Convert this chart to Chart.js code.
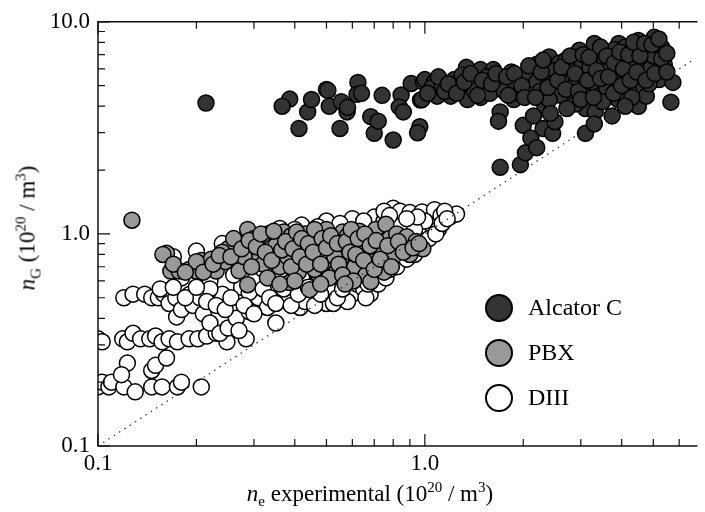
<!DOCTYPE html>
<html>
<head>
<meta charset="utf-8">
<script src="https://cdn.jsdelivr.net/npm/chart.js@4/dist/chart.umd.min.js"></script>
<style>
  body { margin: 0; background: #fff; }
  #wrap { position: relative; width: 705px; height: 512px; font-family: "Liberation Serif", "Times New Roman", serif; color: #000; }
  #myChart { position: absolute; left: 0; top: 0; }
  .ttl { position: absolute; font-size: 23px; white-space: nowrap; line-height: 1; }
  .ttl sub, .ttl sup { font-size: 15px; line-height: 0; }
  #xtitle { left: 370px; top: 493px; transform: translate(-50%, -50%); }
  #ytitle { left: 27px; top: 228px; transform: translate(-50%, -50%) rotate(-90deg); }
  #legend { position: absolute; left: 485px; top: 285px; font-size: 24px; }
  .item { display: flex; align-items: center; height: 45px; }
  .dot { width: 28px; height: 28px; border-radius: 50%; border: 2px solid #000; box-sizing: border-box; margin-right: 15px; }
</style>
</head>
<body>
<div id="wrap">
  <canvas id="myChart" width="705" height="512"></canvas>
  <div class="ttl" id="xtitle"><i>n</i><sub>e</sub> experimental (10<sup>20</sup> / m<sup>3</sup>)</div>
  <div class="ttl" id="ytitle"><i>n</i><sub>G</sub> (10<sup>20</sup> / m<sup>3</sup>)</div>
  <div id="legend"></div>
</div>
<script>
// 數據: [n_e experimental, n_G]
const alcatorC = [
  [0.214,4.14],[0.386,4.32],[0.366,4.0],[0.438,3.76],[0.412,3.14],[0.5,4.8],[0.505,4.75],[0.51,4.0],
  [0.555,4.2],[0.578,3.76],[0.55,3.14],[0.624,5.18],[0.62,4.55],[0.64,4.6],[0.683,3.57],[0.70,2.98],
  [0.80,2.77],[0.846,4.52],[0.835,3.97],[0.859,3.76],[0.965,3.2],[0.95,3.0],[0.908,5.12],[0.99,5.2],
  [0.97,4.28],[0.98,4.3],[1.0,5.34],[1.09,4.46],[1.07,5.2],[1.2,4.46],[1.23,5.34],[1.34,6.1],
  [1.35,4.3],[1.48,5.95],[1.48,4.4],[1.62,5.95],[1.62,4.9],[1.83,4.96],[1.84,5.8],[1.7,3.76],
  [1.68,3.4],[1.7,2.06],[1.96,2.12],[2.03,2.41],[1.87,4.3],[2.0,3.25],[2.11,2.83],[2.14,5.95],
  [2.1,4.96],[2.3,3.14],[2.46,2.98],[2.5,3.38],[2.33,4.0],[2.4,6.83],[2.58,6.4],[2.7,6.6],
  [2.58,4.96],[2.75,5.34],[2.97,7.34],[2.85,4.46],[3.1,3.9],[3.1,2.98],[3.3,7.9],[3.32,3.76],
  [3.32,6.4],[3.4,4.96],[3.66,7.1],[3.92,7.9],[3.92,5.8],[3.74,3.6],[4.05,4.4],[4.29,6.83],
  [4.5,8.16],[4.5,4.96],[4.5,4.0],[4.76,4.46],[5.03,8.45],[5.1,7.1],[5.17,6.4],[5.21,5.34],
  [5.74,5.18],[5.66,4.18],[1.05,4.9],[1.13,5.0],[1.15,4.7],[1.27,4.9],[1.3,5.6],[1.4,5.1],
  [1.42,4.7],[1.55,5.5],[1.58,4.6],[1.7,5.3],[1.75,4.7],[1.9,5.1],[1.95,4.6],[2.05,5.4],
  [2.2,5.2],[2.2,6.3],[2.25,4.7],[2.35,5.6],[2.45,5.1],[2.5,5.9],[2.6,4.5],[2.65,5.5],
  [2.8,6.0],[2.9,5.1],[3.0,6.6],[3.05,5.6],[3.1,4.7],[3.2,6.1],[3.25,5.2],[3.4,7.0],
  [3.5,5.8],[3.55,6.5],[3.6,4.9],[3.7,6.0],[3.8,7.4],[3.85,5.3],[4.0,6.6],[4.1,7.6],
  [4.15,5.6],[4.2,4.8],[4.3,6.1],[4.4,7.3],[4.6,5.6],[4.65,6.5],[4.8,7.6],[4.85,5.1],
  [4.9,6.0],[5.0,6.9],[5.3,7.6],[5.4,6.3],[3.5,4.2],[2.9,4.1],[2.4,4.3],[3.9,4.3],
  [4.3,4.4],[2.15,3.6],
  [1.02,4.6],[1.1,5.5],[1.18,5.1],[1.25,4.6],[1.32,5.2],[1.38,5.7],[1.45,4.5],[1.5,5.3],
  [1.6,5.1],[1.65,5.7],[1.78,5.5],[1.8,4.5],[1.88,5.7],[1.98,5.0],[2.02,4.4],[2.08,6.2],
  [2.18,4.4],[2.27,5.8],[2.3,6.6],[2.38,4.9],[2.42,3.7],[2.55,5.3],[2.62,6.1],[2.7,4.8],
  [2.72,3.9],[2.78,6.9],[2.88,5.7],[2.95,4.7],[3.0,4.3],[3.05,7.0],[3.15,5.3],[3.18,6.8],
  [3.28,4.4],[3.35,5.9],[3.45,7.6],[3.45,5.4],[3.6,6.9],[3.65,5.5],[3.78,4.6],[3.8,6.4],
  [3.95,7.2],[4.0,5.0],[4.05,6.0],[4.2,7.0],[4.25,5.3],[4.35,8.0],[4.45,5.8],[4.55,6.9],
  [4.7,7.9],[4.75,5.3],[4.95,7.8],[5.05,5.7],[5.2,8.3],[5.3,6.7],[5.5,5.8],[5.5,7.1],
  [4.1,4.0],[3.3,3.3],[2.2,2.55],[0.74,4.5],[0.72,3.4],[0.58,3.95],[0.45,4.3]
];
const pbx = [
  [0.127,1.16],[0.162,0.81],[0.158,0.80],[0.167,0.668],[0.177,0.668],[0.19,0.68],[0.2,0.668],[0.207,0.75],
  [0.215,0.70],[0.23,0.668],[0.222,0.76],[0.245,0.74],[0.264,0.88],[0.25,0.85],[0.287,1.05],[0.287,0.576],
  [0.27,0.67],[0.3,0.95],[0.31,0.80],[0.32,0.72],[0.333,0.98],[0.34,0.86],[0.353,0.96],[0.36,0.70],
  [0.37,1.02],[0.38,0.78],[0.386,0.59],[0.40,0.92],[0.41,0.66],[0.426,0.85],[0.43,1.0],[0.444,0.546],
  [0.45,0.75],[0.466,1.0],[0.47,0.88],[0.476,0.63],[0.49,0.80],[0.50,1.05],[0.51,0.70],[0.52,0.93],
  [0.535,0.66],[0.55,0.85],[0.56,1.02],[0.57,0.76],[0.585,0.61],[0.60,0.90],[0.61,0.70],[0.63,1.03],
  [0.64,0.82],[0.66,0.64],[0.67,0.95],[0.683,0.595],[0.69,0.74],[0.707,1.05],[0.72,0.87],[0.74,0.82],
  [0.75,0.66],[0.76,1.11],[0.78,0.95],[0.80,0.78],[0.82,1.0],[0.85,0.88],[0.88,0.97],[0.9,0.80],
  [0.986,0.85],[0.94,0.92],[0.33,0.62],[0.35,0.88],[0.39,0.98],[0.46,0.68],[0.53,0.78],[0.58,0.98],
  [0.62,0.88],[0.28,0.78],[0.24,0.82],[0.2,0.74],
  [0.17,0.72],[0.185,0.66],[0.21,0.66],[0.225,0.72],[0.235,0.79],[0.255,0.78],[0.26,0.95],[0.275,0.85],
  [0.29,0.93],[0.295,0.70],[0.305,0.87],[0.315,1.0],[0.325,0.82],[0.34,0.75],[0.345,1.03],[0.365,0.84],
  [0.375,0.92],[0.39,0.70],[0.395,0.85],[0.405,1.02],[0.415,0.78],[0.42,0.95],[0.435,0.72],[0.44,0.90],
  [0.455,0.82],[0.46,1.05],[0.48,0.72],[0.485,0.95],[0.5,0.86],[0.51,0.62],[0.515,0.98],[0.54,0.90],
  [0.545,0.72],[0.56,0.64],[0.575,0.92],[0.59,0.82],[0.595,1.05],[0.605,0.60],[0.615,0.80],[0.625,0.95],
  [0.65,0.75],[0.655,1.0],[0.68,0.88],[0.7,0.68],[0.71,0.93],[0.73,0.76],[0.77,0.88],[0.79,0.70],
  [0.83,0.92],[0.86,0.82],[0.92,0.86],[0.96,0.90],[0.57,0.58],[0.48,0.58],[0.36,0.58],[0.4,0.6]
];
const diii = [
  [0.1,0.19],[0.103,0.2],[0.108,0.19],[0.11,0.2],[0.12,0.19],[0.123,0.246],[0.118,0.217],[0.13,0.18],
  [0.146,0.19],[0.146,0.227],[0.150,0.24],[0.157,0.19],[0.162,0.26],[0.175,0.19],[0.18,0.2],[0.207,0.19],
  [0.1,0.32],[0.103,0.31],[0.119,0.32],[0.123,0.31],[0.128,0.34],[0.135,0.32],[0.144,0.32],[0.15,0.33],
  [0.157,0.31],[0.165,0.32],[0.175,0.31],[0.19,0.32],[0.202,0.32],[0.215,0.33],[0.23,0.34],[0.248,0.31],
  [0.284,0.32],[0.12,0.5],[0.128,0.52],[0.139,0.52],[0.146,0.5],[0.153,0.5],[0.159,0.52],[0.165,0.47],
  [0.173,0.5],[0.174,0.406],[0.18,0.44],[0.191,0.52],[0.195,0.46],[0.205,0.5],[0.21,0.42],[0.22,0.38],
  [0.236,0.34],[0.25,0.36],[0.26,0.46],[0.265,0.40],[0.272,0.50],[0.275,0.56],[0.284,0.71],[0.29,0.43],
  [0.30,0.60],[0.31,0.50],[0.33,0.45],[0.345,0.55],[0.36,0.62],[0.38,0.50],[0.40,0.56],[0.415,0.45],
  [0.42,0.62],[0.45,0.52],[0.47,0.60],[0.5,0.47],[0.52,0.56],[0.525,0.47],[0.55,0.62],[0.6,0.52],
  [0.62,0.58],[0.65,0.55],[0.68,0.52],[0.7,0.62],[0.74,0.64],[0.75,0.70],[0.8,0.72],[0.83,0.77],
  [0.86,0.82],[0.9,0.86],[0.95,0.92],[1.0,1.0],[1.05,1.1],[0.8,1.32],[0.84,1.28],[0.9,1.26],
  [0.98,1.27],[1.07,1.3],[1.12,1.22],[1.2,1.21],[1.25,1.24],[1.15,1.28],[0.7,1.2],[0.6,1.18],
  [0.5,1.15],[0.42,1.1],[0.36,1.06],[0.3,0.98],[0.24,0.9],[0.2,0.83],[0.17,0.78],[0.22,0.6],
  [0.18,0.62],[0.26,0.64],[0.32,0.68],[0.38,0.72],[0.44,0.8],[0.55,0.82],[0.65,0.9],[0.72,0.95],
  [1.0,1.15],[1.1,1.05],[0.93,1.05],[0.35,0.38],[0.27,0.35],[0.43,0.48],[0.58,0.48],[0.66,0.50],
  [0.29,0.53],[0.24,0.52],[0.22,0.55],
  [0.155,0.55],[0.17,0.56],[0.185,0.5],[0.2,0.56],[0.215,0.48],[0.23,0.46],[0.245,0.44],[0.255,0.5],
  [0.28,0.46],[0.3,0.42],[0.32,0.55],[0.335,0.5],[0.35,0.47],[0.37,0.55],[0.39,0.46],[0.41,0.52],
  [0.44,0.56],[0.46,0.46],[0.48,0.52],[0.54,0.5],[0.56,0.55],[0.63,0.62],[0.67,0.58],[0.72,0.58],
  [0.76,0.62],[0.78,0.68],[0.82,0.7],[0.88,0.76],[0.93,0.8],[0.97,0.86],[1.03,0.95],[1.08,1.0],
  [1.13,1.12],[1.17,1.18],[0.95,1.2],[0.88,1.18],[0.75,1.15],[0.65,1.15],[0.55,1.12],[0.47,1.08],
  [0.4,1.05],[0.33,1.0],[0.27,0.9],[0.75,1.28],[0.78,1.22]
];
const diagonal = [0.1, 6.73];      // y = x 參考線
const xRange = [0.1, 6.73];
const yRange = [0.1, 10];
const xMajorTicks = [0.1, 1];
const xTickLabels = ['0.1', '1.0'];
const yMajorTicks = [0.1, 1, 10];
const yTickLabels = ['0.1', '1.0', '10.0'];
const seriesNames = ['Alcator C', 'PBX', 'DIII'];
const seriesColors = ['#333333', '#999999', '#ffffff'];

function toXY(arr) {
  return arr.map(p => ({ x: p[0], y: p[1] }));
}

function tickLabel(majors, labels) {
  return function (value) {
    for (let i = 0; i < majors.length; i++) {
      if (Math.abs(value - majors[i]) < majors[i] * 1e-6) return labels[i];
    }
    return '';
  };
}

function isNiceTick(v) {
  const p = Math.pow(10, Math.floor(Math.log10(v) + 1e-9));
  const s = v / p;
  return Math.abs(s - Math.round(s)) < 1e-6;
}

// 內向刻度線 + 邊框
const frameTicks = {
  id: 'frameTicks',
  afterDraw(chart) {
    const ctx = chart.ctx;
    const a = chart.chartArea;
    const xs = chart.scales.x, ys = chart.scales.y;
    ctx.save();
    ctx.strokeStyle = '#111';
    ctx.lineWidth = 1.5;
    ctx.beginPath();
    ctx.moveTo(a.right + 2, a.top); ctx.lineTo(a.left, a.top);
    ctx.lineTo(a.left, a.bottom); ctx.lineTo(a.right + 2, a.bottom);
    ctx.stroke();
    ctx.lineWidth = 1.2;
    ctx.beginPath();
    xs.ticks.forEach(t => {
      if (!isNiceTick(t.value)) return;
      const px = xs.getPixelForValue(t.value);
      const len = Math.abs(Math.log10(t.value) - Math.round(Math.log10(t.value))) < 1e-6 ? 12 : 7;
      ctx.moveTo(px, a.bottom); ctx.lineTo(px, a.bottom - len);
      ctx.moveTo(px, a.top); ctx.lineTo(px, a.top + len);
    });
    ys.ticks.forEach(t => {
      if (!isNiceTick(t.value)) return;
      const py = ys.getPixelForValue(t.value);
      const len = Math.abs(Math.log10(t.value) - Math.round(Math.log10(t.value))) < 1e-6 ? 12 : 7;
      ctx.moveTo(a.left, py); ctx.lineTo(a.left + len, py);
    });
    ctx.stroke();
    ctx.restore();
  }
};

function renderChart() {
  const ctx = document.getElementById('myChart').getContext('2d');
  const pointStyle = (i) => ({
    backgroundColor: seriesColors[i],
    borderColor: '#000',
    borderWidth: 1.5,
    pointRadius: 8,
    clip: 0
  });
  new Chart(ctx, {
    type: 'scatter',
    data: {
      datasets: [
        {
          type: 'line',
          label: 'y = x',
          data: toXY([[diagonal[0], diagonal[0]], [diagonal[1], diagonal[1]]]),
          borderColor: '#222',
          borderWidth: 1.3,
          borderDash: [1.3, 5],
          pointRadius: 0,
          fill: false,
          clip: 0
        },
        Object.assign({ label: seriesNames[0], data: toXY(alcatorC) }, pointStyle(0)),
        Object.assign({ label: seriesNames[1], data: toXY(pbx) }, pointStyle(1)),
        Object.assign({ label: seriesNames[2], data: toXY(diii) }, pointStyle(2))
      ]
    },
    options: {
      responsive: false,
      animation: false,
      layout: { padding: { top: 12, right: 0, left: 0, bottom: 0 } },
      plugins: { legend: { display: false }, tooltip: { enabled: false } },
      scales: {
        x: {
          type: 'logarithmic',
          min: xRange[0], max: xRange[1],
          grid: { display: false, drawTicks: false },
          border: { display: false },
          afterFit: (s) => { s.height = 66; },
          ticks: {
            autoSkip: false, maxRotation: 0, padding: 4, color: '#000',
            font: { family: '"Liberation Serif", serif', size: 23 },
            callback: tickLabel(xMajorTicks, xTickLabels)
          }
        },
        y: {
          type: 'logarithmic',
          min: yRange[0], max: yRange[1],
          grid: { display: false, drawTicks: false },
          border: { display: false },
          afterFit: (s) => { s.width = 98; },
          ticks: {
            autoSkip: false, padding: 8, color: '#000',
            font: { family: '"Liberation Serif", serif', size: 23 },
            callback: tickLabel(yMajorTicks, yTickLabels)
          }
        }
      }
    },
    plugins: [frameTicks]
  });
}

function renderLegend() {
  const box = document.getElementById('legend');
  seriesNames.forEach((name, i) => {
    const row = document.createElement('div');
    row.className = 'item';
    const dot = document.createElement('span');
    dot.className = 'dot';
    dot.style.background = seriesColors[i];
    const txt = document.createElement('span');
    txt.textContent = name;
    row.appendChild(dot);
    row.appendChild(txt);
    box.appendChild(row);
  });
}

renderChart();
renderLegend();
</script>
</body>
</html>
